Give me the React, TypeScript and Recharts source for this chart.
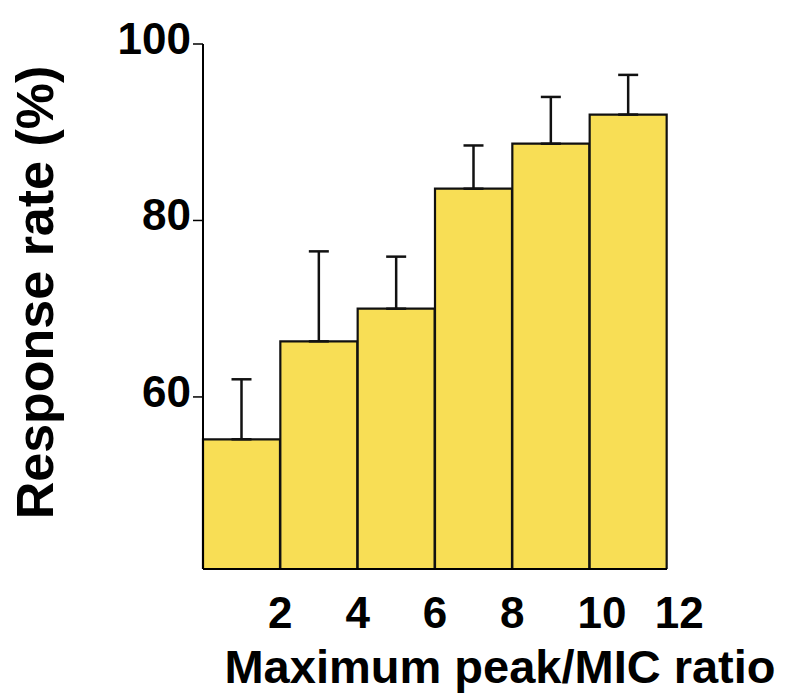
import React from "react";
import { BarChart, Bar, XAxis, YAxis, ErrorBar } from "recharts";

const ratioMid = [1, 3, 5, 7, 9, 11];
const responseRate = [55.2, 66.3, 70.0, 83.6, 88.7, 92.0];
const upperError = [6.8, 10.2, 5.9, 4.9, 5.3, 4.5];
const xTicks = [2, 4, 6, 8, 10, 12];
const yTicks = [60, 80, 100];

const data = ratioMid.map((x, i) => ({
  x,
  rate: responseRate[i],
  err: [0, upperError[i]],
}));

const FONT = '"Liberation Sans", Arial, sans-serif';
const TICK_FS = 44;

const XTick = (props: any) => {
  const { x, y, payload } = props;
  return (
    <text
      x={x}
      y={y}
      dx={-0.278 * TICK_FS}
      dy="0.71em"
      textAnchor="start"
      fontFamily={FONT}
      fontWeight="bold"
      fontSize={TICK_FS}
      fill="#000"
    >
      {payload.value}
    </text>
  );
};

const YTitle = (props: any) => {
  const vb = props.viewBox;
  const cx = vb.x + 35;
  const cy = vb.y + vb.height / 2 - 14;
  return (
    <text
      x={cx}
      y={cy}
      transform={`rotate(-90, ${cx}, ${cy})`}
      textAnchor="middle"
      dominantBaseline="central"
      fontFamily={FONT}
      fontWeight="bold"
      fontSize={52}
      fill="#000"
    >
      Response rate (%)
    </text>
  );
};

const XTitle = (props: any) => {
  const vb = props.viewBox;
  const cx = vb.x + vb.width / 2 + 65;
  const cy = vb.y + 114;
  return (
    <text
      x={cx}
      y={cy}
      textAnchor="middle"
      fontFamily={FONT}
      fontWeight="bold"
      fontSize={47}
      fill="#000"
    >
      Maximum peak/MIC ratio
    </text>
  );
};

export default function App() {
  return (
    <div style={{ width: 790, height: 695, background: "#fff" }}>
      <style>{`body{margin:0;}`}</style>
      <BarChart
        width={790}
        height={695}
        data={data}
        margin={{ top: 44, right: 123, bottom: 0, left: 0 }}
        barCategoryGap={0}
        barGap={0}
      >
        <XAxis
          dataKey="x"
          type="number"
          domain={[0, 12]}
          ticks={xTicks}
          height={126}
          tickLine={false}
          tickSize={0}
          tickMargin={28}
          axisLine={{ stroke: "#000", strokeWidth: 2 }}
          tick={<XTick />}
          label={<XTitle />}
        />
        <YAxis
          type="number"
          domain={[40.5, 100]}
          ticks={yTicks}
          width={203}
          allowDataOverflow
          tickSize={10}
          tickMargin={2}
          axisLine={{ stroke: "#000", strokeWidth: 2 }}
          tickLine={{ stroke: "#000", strokeWidth: 1.5 }}
          tick={{ fill: "#000", fontFamily: FONT, fontWeight: "bold", fontSize: TICK_FS, dy: -6 }}
          label={<YTitle />}
        />
        <Bar
          dataKey="rate"
          fill="#F8DE55"
          stroke="#111"
          strokeWidth={2.2}
          isAnimationActive={false}
        >
          <ErrorBar
            dataKey="err"
            direction="y"
            width={10}
            stroke="#111"
            strokeWidth={2.5}
            isAnimationActive={false}
          />
        </Bar>
      </BarChart>
    </div>
  );
}
